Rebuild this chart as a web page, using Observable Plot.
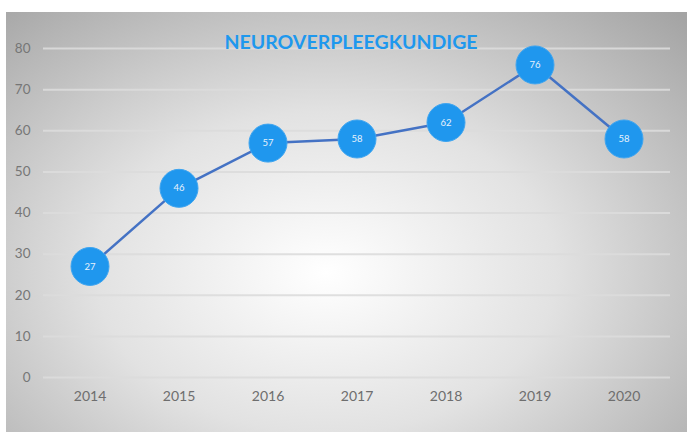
<!DOCTYPE html>
<html><head><meta charset="utf-8">
<script src="https://cdn.jsdelivr.net/npm/d3@7"></script>
<script src="https://cdn.jsdelivr.net/npm/@observablehq/plot@0.6"></script>
<style>
body{margin:0;background:#fff;}
#wrap{position:absolute;left:6px;top:12px;width:681px;height:420px;
background:radial-gradient(ellipse 75% 85% at 47% 62%, #ffffff 0%, #e2e2e2 45%, #a4a4a4 100%);}
</style></head>
<body><div id="wrap"></div>
<script>
const years = ["2014","2015","2016","2017","2018","2019","2020"];
const values = [27,46,57,58,62,76,58];
const yTicks = [0,10,20,30,40,50,60,70,80];
const title = "NEUROVERPLEEGKUNDIGE";
const data = years.map((y,i)=>({year:y,value:values[i]}));
const chart = Plot.plot({
  width:681, height:420,
  marginLeft:37, marginRight:17, marginTop:36, marginBottom:55,
  style:{background:"transparent", fontFamily:"Lato, 'Open Sans', sans-serif"},
  x:{type:"band", domain:years, padding:0},
  y:{domain:[0,80]},
  marks:[
    Plot.ruleY(yTicks,{stroke:"#dcdcdc",strokeOpacity:0.9,strokeWidth:2}),
    Plot.axisY(yTicks,{tickSize:0,tickPadding:13,fontSize:13.5,fill:"#767676",label:null}),
    Plot.axisX({tickSize:0,tickPadding:14,fontSize:14,fill:"#6e6e6e",label:null}),
    Plot.line(data,{x:"year",y:"value",stroke:"#4472c4",strokeWidth:2.5}),
    Plot.dot(data,{x:"year",y:"value",r:19,fill:"#1f97ee",stroke:"#3fa5f0",strokeWidth:1}),
    Plot.text(data,{x:"year",y:"value",text:d=>String(d.value),fill:"#e8f2fc",fontSize:9.5}),
    Plot.text([title],{frameAnchor:"top",dx:-6,dy:-13,text:d=>d,fill:"#1e98ee",fontSize:19.5,fontWeight:"bold"})
  ]
});
document.getElementById("wrap").appendChild(chart);
</script></body></html>
